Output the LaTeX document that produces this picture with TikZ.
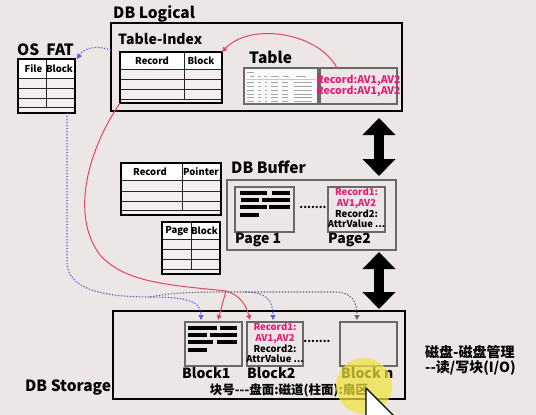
\documentclass[tikz,border=0pt]{standalone}
\usepackage{fontspec}
\setmainfont{Noto Sans CJK SC}
\usetikzlibrary{arrows.meta,calc}
\definecolor{bgc}{RGB}{236,230,230}
\definecolor{mag}{RGB}{226,30,120}
\definecolor{redl}{RGB}{222,72,104}
\definecolor{bluel}{RGB}{95,95,215}
\definecolor{grayl}{RGB}{100,96,120}
\definecolor{boxg}{RGB}{105,105,105}
\definecolor{hily}{RGB}{240,226,60}
\newcommand\pagebars[2]{%
  \begin{scope}[shift={(#1,#2)}]
    \fill[black] (5,4) rectangle (32,8);  \fill[black] (37,4) rectangle (55,8);
    \fill[black] (6,11) rectangle (24,15); \fill[black] (27,11) rectangle (55,15);
    \fill[black] (5,18) rectangle (32,22); \fill[black] (34,18) rectangle (55,22);
    \fill[black] (5,26) rectangle (24,30);
  \end{scope}}
\begin{document}
\begin{tikzpicture}[x=1pt,y=-1pt,
  ttl/.style={font=\bfseries\fontsize{15.5}{16}\selectfont, anchor=base west, inner sep=0pt},
  lbl/.style={font=\bfseries\fontsize{14}{14}\selectfont, anchor=base west, inner sep=0pt},
  hd/.style={font=\bfseries\fontsize{9.5}{10}\selectfont, inner sep=0pt},
  tbl/.style={draw=black, line width=1.8pt, anchor=north west, inner sep=0pt, outer sep=0pt},
  gbox/.style={draw=boxg, line width=1.1pt, anchor=north west, inner sep=0pt, outer sep=0pt},
  blkbox/.style={draw=black, line width=1.8pt, anchor=north west, inner sep=0pt, outer sep=0pt},
  rl/.style={line width=0.7pt, draw=black!85},
  recs/.style={font=\bfseries\fontsize{9.5}{10.7}\selectfont, align=center, inner sep=0pt},
  dbl/.style={line width=10pt, {Triangle[width=32pt,length=17pt]}-{Triangle[width=32pt,length=17pt]}},
  bdot/.style={draw=bluel, line width=1.1pt, dash pattern=on 1.4pt off 1.6pt},
  gdot/.style={draw=grayl, line width=1.1pt, dash pattern=on 1.4pt off 1.6pt},
  rline/.style={draw=redl, line width=1pt},
  arr/.style={-{Triangle[length=5pt,width=5pt]}},
  cjkt/.style={font=\bfseries\fontsize{14}{14}\selectfont, anchor=west, inner sep=0pt},
]
\fill[bgc] (0,0) rectangle (536,415);
\useasboundingbox (0,0) rectangle (536,415);

% ---------- titles ----------
\node[ttl] (tlog) at (113,18) {DB Logical};
\node[ttl] (tfat) at (17,55) {OS\ \ FAT};
\node[lbl] (tidx) at (118,45) {Table-Index};
\node[ttl] (ttab) at (249,63) {Table};
\node[ttl] (tbuf) at (231,173) {DB Buffer};
\node[ttl] (tsto) at (25,391) {DB Storage};

% ---------- OS FAT table ----------
\fill[white!35!bgc] (18,59) rectangle (75,113);
\fill[white] (18,59) rectangle (75,78);
\draw[rl] (18,78) -- (75,78) (18,88) -- (75,88) (18,98) -- (75,98) (18,107) -- (75,107) (46,59) -- (46,107);
\node[tbl, minimum width=57pt, minimum height=54pt] (fat) at (18,59) {};
\node[hd] (fatf) at (33.5,69) {File};
\node[hd] (fatb) at (59.5,69) {Block};

% ---------- DB Logical ----------
\node[blkbox, minimum width=291pt, minimum height=88pt] (logical) at (111,23) {};
\fill[white!35!bgc] (120,52) rectangle (222,103);
\fill[white] (120,52) rectangle (222,69);
\draw[rl] (120,69) -- (222,69) (120,79) -- (222,79) (120,89) -- (222,89) (120,99) -- (222,99) (184,52) -- (184,99);
\node[tbl, minimum width=102pt, minimum height=51pt] (idx) at (120,52) {};
\node[hd] (idxr) at (152,61) {Record};
\node[hd] (idxb) at (201,61) {Block};

% mini table picture
\node[gbox, fill=white!80!bgc, minimum width=74pt, minimum height=36pt] (timg) at (244,68) {};
\begin{scope}[shift={(244,68)}, line width=0.7pt, draw=gray!70]
  \draw (3,4) -- (10,4);
  \foreach \a/\b in {6/10,14/17,20/23,27/35,39/45,52/62} \draw (\a,8.5) -- (\b,8.5);
  \draw[gray!45, line width=0.4pt] (2,11) -- (72,11);
  \foreach \r in {0,...,5} {
    \foreach \a/\b in {3/10,14/17,21/23,27/34,38/44,50/68}
      \draw (\a,14.5+\r*3.8) -- (\b,14.5+\r*3.8);
  }
\end{scope}
\node[gbox, minimum width=77pt, minimum height=36pt] (rec) at (320,68) {};
\node[recs, text=mag, font=\bfseries\fontsize{10.5}{10}\selectfont] (rect) at (rec.center) {Record:AV1,AV2\\Record:AV1,AV2};

% ---------- Record / Pointer table ----------
\fill[white!35!bgc] (121,163) rectangle (221,215);
\fill[white] (121,163) rectangle (221,180);
\draw[rl] (121,180) -- (221,180) (121,191) -- (221,191) (121,201) -- (221,201) (121,210) -- (221,210) (182,163) -- (182,210);
\node[tbl, minimum width=100pt, minimum height=52pt] (rp) at (121,163) {};
\node[hd] (rpr) at (150,172) {Record};
\node[hd] (rpp) at (201,172) {Pointer};

% ---------- Page / Block table ----------
\fill[white!35!bgc] (162,222) rectangle (220,274);
\fill[white] (162,222) rectangle (220,239);
\draw[rl] (162,239) -- (220,239) (162,249) -- (220,249) (162,259) -- (220,259) (162,269) -- (220,269) (191,222) -- (191,269);
\node[tbl, minimum width=58pt, minimum height=52pt] (pb) at (162,222) {};
\node[hd] (pbp) at (177,231) {Page};
\node[hd] (pbb) at (204.5,231) {Block};

% ---------- DB Buffer ----------
\node[gbox, minimum width=169pt, minimum height=70pt] (buffer) at (227,180) {};
\node[gbox, minimum width=59pt, minimum height=45pt] (page1) at (235,187) {};
\pagebars{235}{187}
\node[gbox, minimum width=57pt, minimum height=45pt] (page2) at (328,187) {};
\node[recs] (p2t) at (356.5,208) {\textcolor{mag}{Record1:}\\\textcolor{mag}{AV1,AV2}\\Record2:\\AttrValue ...};
\node[font=\bfseries\fontsize{11}{11}\selectfont, inner sep=0pt] (pdots) at (313,207) {.......};
\node[lbl] (lp1) at (235,243) {Page 1};
\node[lbl] (lp2) at (328,243) {Page2};

% ---------- DB Storage ----------
\node[blkbox, minimum width=292pt, minimum height=88pt] (storage) at (113,311) {};
\node[gbox, minimum width=57pt, minimum height=44pt] (b1) at (185,322) {};
\begin{scope}[shift={(185,322)}]
  \fill[black] (3,4) rectangle (32,8);  \fill[black] (35,4) rectangle (52,8);
  \fill[black] (3,11) rectangle (22,15); \fill[black] (25,11) rectangle (52,15);
  \fill[black] (3,18) rectangle (28,22); \fill[black] (32,18) rectangle (52,22);
  \fill[black] (3,26) rectangle (22,30);
\end{scope}
\node[gbox, minimum width=56pt, minimum height=44pt] (b2) at (247,322) {};
\node[recs] (b2t) at (275,343) {\textcolor{mag}{Record1:}\\\textcolor{mag}{AV1,AV2}\\Record2:\\AttrValue ...};
\node[font=\bfseries\fontsize{11}{11}\selectfont, inner sep=0pt] (bdots) at (317,341) {.......};
\node[gbox, minimum width=57pt, minimum height=44pt] (bn) at (340,322) {};
\node[lbl] (lb1) at (182,378) {Block1};
\node[lbl] (lb2) at (247,378) {Block2};
\node[lbl] (lbn) at (341,378) {Block n};
\node[font=\bfseries\fontsize{12.5}{13}\selectfont, inner sep=0pt] (addr) at (289,390) {块号-{}-{}-盘面:磁道(柱面):扇区};

\node[cjkt] (disk1) at (425,352) {磁盘-磁盘管理};
\node[cjkt] (disk2) at (425,368) {-{}-读/写块(I/O)};

% ---------- big double arrows ----------
\draw[dbl] ($(logical.south east)+(-23,7)$) -- ($(buffer.north east)+(-17,-4)$);
\draw[dbl] ($(buffer.south east)+(-17,2)$) -- ($(storage.north east)+(-26,-2)$);

% ---------- connectors ----------
\coordinate (fatin) at ($(logical.north west)+(0,27)$);
\draw[bdot, arr] (fatin) .. controls (96,45) and (84,48) .. ($(fat.north east)+(2,0)$);

\coordinate (fatout) at ($(fat.south east)+(-8,0)$);
\coordinate (bsplit) at (150,297);
\coordinate (csplit) at (245,292);
\draw[bdot] (fatout) -- (67,262) .. controls (67,288) and (100,297) .. (bsplit);
\draw[bdot, arr] (bsplit) .. controls (190,297) and (201,302) .. ($(b1.north west)+(16,-2)$);
\draw[gdot, arr] (bsplit) .. controls (170,293) and (190,292) .. (230,292) -- (335,292) .. controls (352,292) and (357,302) .. ($(bn.north west)+(17,-2)$);
\draw[bdot, arr] (csplit) .. controls (266,292) and (273,300) .. ($(b2.north west)+(26,-2)$);

\coordinate (rsplit) at (226,291);
\draw[rline] (idx.south west) .. controls (88,150) and (70,215) .. (100,255) .. controls (125,283) and (170,285) .. (rsplit);
\draw[rline, arr] (rsplit) .. controls (240,295) and (246,305) .. ($(b2.north west)+(3,-2)$);
\draw[rline, arr] (rsplit) -- ($(b1.north west)+(33,-2)$);
\draw[rline, arr] ($(rec.north west)+(17,0)$) .. controls (318,32) and (250,22) .. (idx.north east);

% ---------- pointer highlight and cursor ----------
\fill[hily, opacity=0.72] (364,386) circle (28);
\begin{scope}
  \clip (0,0) rectangle (536,415);
  \filldraw[fill=white, draw=black, line width=1.3pt, line join=round] (366,388) -- (366,418) -- (396,418) -- cycle;
\end{scope}
\end{tikzpicture}
\end{document}
